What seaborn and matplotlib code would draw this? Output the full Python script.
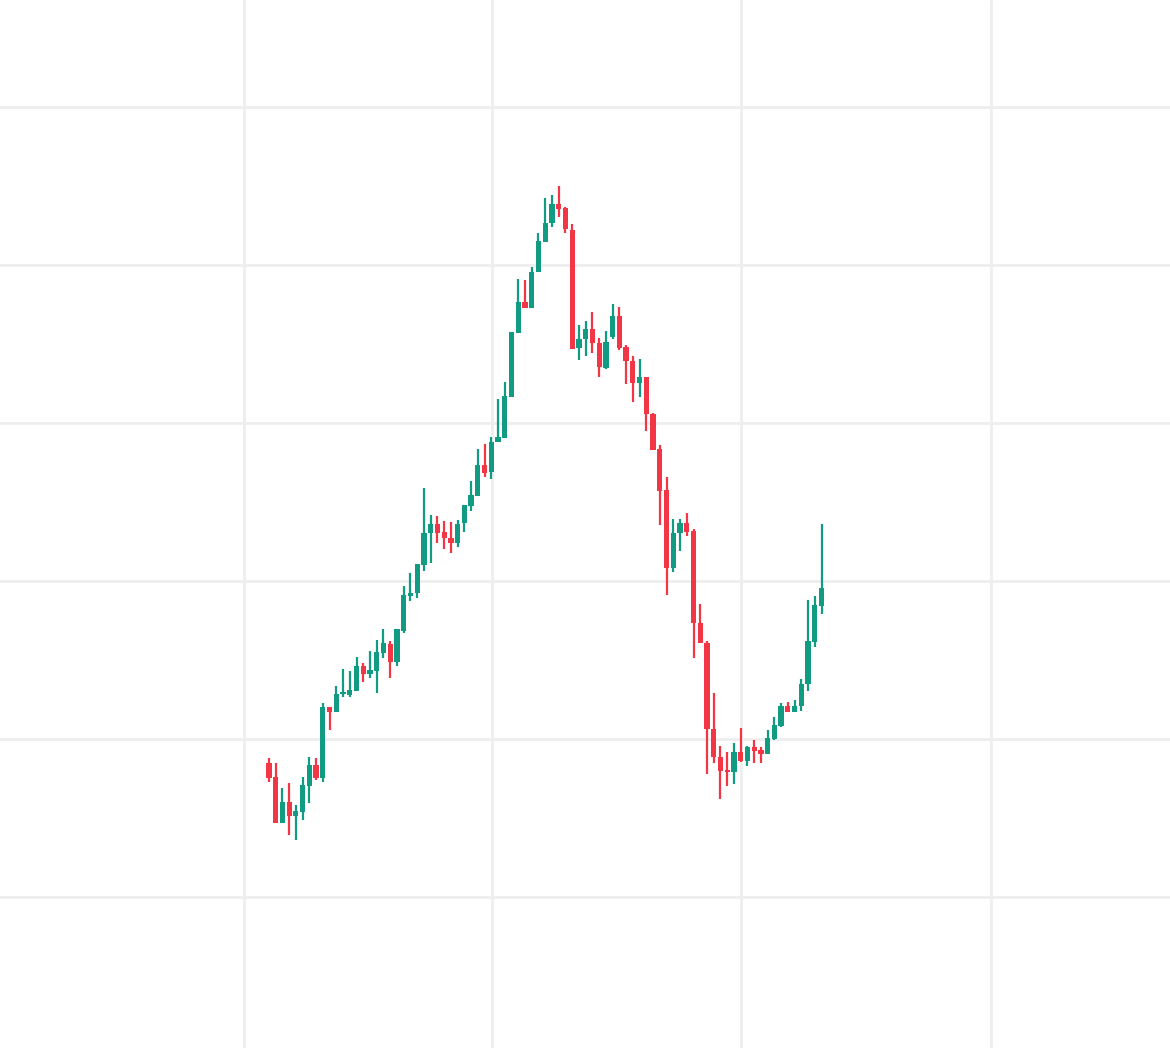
import matplotlib
matplotlib.use("Agg")
import matplotlib.pyplot as plt
import seaborn as sns
import numpy as np
import pandas as pd

opens = [285,271,225,246,232,236,262,283,270,341,336,354,353,357,382,374,377,395,404,386,
         417,452,455,483,515,524,516,510,505,525,542,552,583,576,606,610,651,715,746,740,
         776,806,825,844,840,818,700,709,719,705,680,711,732,701,687,665,671,634,599,558,
         480,515,525,517,425,405,319,291,278,276,296,287,301,298,294,309,322,342,336,342,
         364,406,442]
highs = [290,285,260,265,243,271,291,290,345,341,362,379,377,391,385,397,408,419,407,419,
         462,475,484,560,533,532,527,526,528,543,567,599,604,611,649,666,716,769,768,781,
         815,850,853,862,841,824,723,727,736,710,717,744,741,703,692,689,671,635,603,571,
         529,529,535,519,444,407,355,302,296,305,320,302,308,301,318,331,345,346,348,369,
         448,452,524]
lows = [266,225,225,213,208,228,245,268,266,318,336,351,351,357,366,370,355,390,370,382,
        415,447,450,477,485,505,499,495,501,516,537,552,571,569,606,610,651,715,740,740,
        776,806,821,831,815,699,688,692,695,671,679,709,698,664,646,651,617,598,523,453,
        476,497,512,390,405,274,285,249,262,264,286,282,285,285,294,308,321,336,336,337,
        357,401,434]
closes = [270,225,246,232,237,263,283,270,341,336,354,355,358,382,374,378,396,405,386,419,
          453,455,484,515,524,515,510,505,524,543,553,583,575,606,611,652,716,746,740,776,
          807,825,844,839,819,699,709,719,705,681,706,732,700,687,665,671,634,598,557,480,
          515,525,516,425,405,319,291,277,276,296,287,301,297,294,310,323,342,336,342,364,
          407,443,460]

df = pd.DataFrame({"open": opens, "high": highs, "low": lows, "close": closes})
df["idx"] = np.arange(len(df))
df["up"] = df["close"] >= df["open"]

sns.set_style("white")
GREEN = "#129b83"
RED = "#f23645"

fig = plt.figure(figsize=(11.7, 10.48), dpi=100)
ax = fig.add_axes([0, 0, 1, 1])
ax.set_xlim(-39.9, 133.7)
ax.set_ylim(0, 1048)

for g in [941, 783, 625, 467, 309, 151]:
    ax.axhline(g, color="#eeeeee", lw=2, zorder=0)
for g in [-3.7, 33.1, 70.0, 107.1]:
    ax.axvline(g, color="#eeeeee", lw=2, zorder=0)

colors = np.where(df["up"], GREEN, RED)
ax.vlines(df["idx"], df["low"], df["high"], colors=colors, lw=1.6, zorder=2)
bottoms = np.minimum(df["open"], df["close"])
heights = np.maximum(np.abs(df["close"] - df["open"]), 2)
ax.bar(df["idx"], heights, bottom=bottoms, width=0.78, color=colors, linewidth=0, zorder=3)

ax.set_axis_off()
fig.savefig("out.png", dpi=100, facecolor="white")
